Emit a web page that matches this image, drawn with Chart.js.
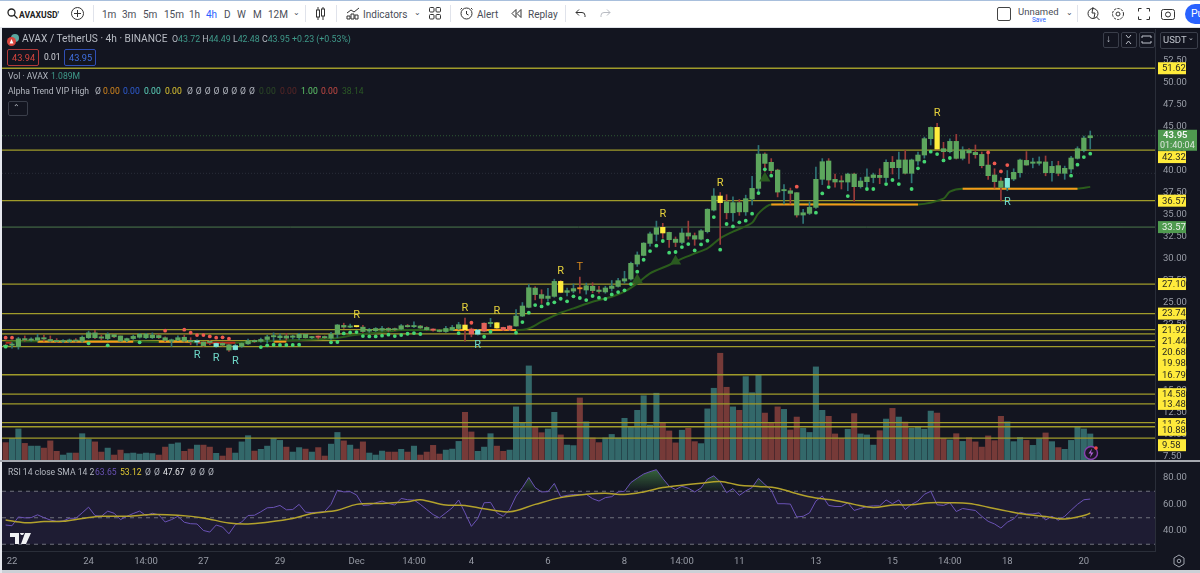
<!DOCTYPE html>
<html>
<head>
<meta charset="utf-8">
<title>AVAX / TetherUS</title>
<script src="https://cdn.jsdelivr.net/npm/chart.js@4"></script>
<style>
  html, body { margin: 0; padding: 0; width: 1200px; height: 573px; overflow: hidden; background: #ccd0d6; font-family: Roboto, sans-serif; }
  .abs, canvas { position: absolute; }
  .t { position: absolute; white-space: pre; line-height: 1; }
  #toolbar { position: absolute; left: 0; top: 0; width: 1200px; height: 26px; background: #fff; border-top: 1px solid #a8bfdc; color: #4a4e58; }
  #toolbar .t { font-size: 10px; top: 9px; }
  #frame { position: absolute; left: 2px; top: 28px; width: 1198px; height: 542px; background: #131520; }
  #sep { position: absolute; left: 0; top: 460px; width: 1200px; height: 2px; background: #a6a9b0; }
  .leg { color: #b4b8c0; font-size: 8.6px; }
  .val { font-size: 8.6px; }
  .box { position: absolute; border: 1px solid #3a3e4a; border-radius: 2px; }
  svg { position: absolute; }
</style>
</head>
<body>
<div id="frame"></div>
<div id="toolbar">
  <svg style="left:7px;top:7px" width="11" height="11" viewBox="0 0 11 11" fill="none" stroke="#222" stroke-width="1.3"><circle cx="4.5" cy="4.5" r="3.5"/><path d="M7 7l3.5 3.5"/></svg>
  <span class="t" style="left:19px;font-weight:700;color:#222;font-size:8.6px;top:10px">AVAXUSD'</span>
  <svg style="left:71px;top:6px" width="13" height="13" viewBox="0 0 13 13" fill="none" stroke="#333"><circle cx="6.5" cy="6.5" r="6"/><path d="M6.5 3v7M3 6.5h7"/></svg>
  <div class="abs" style="left:93px;top:4px;width:1px;height:17px;background:#e0e3eb"></div>
  <span class="t" style="left:102px">1m</span><span class="t" style="left:122px">3m</span><span class="t" style="left:143px">5m</span><span class="t" style="left:164px">15m</span><span class="t" style="left:189px">1h</span><span class="t" style="left:206px;color:#2962ff">4h</span><span class="t" style="left:224px">D</span><span class="t" style="left:237px">W</span><span class="t" style="left:253px">M</span><span class="t" style="left:268px">12M</span>
  <span class="t" style="left:293px;top:8px;font-size:8px">&#8964;</span>
  <div class="abs" style="left:305px;top:4px;width:1px;height:17px;background:#e0e3eb"></div>
  <svg style="left:315px;top:5px" width="11" height="15" viewBox="0 0 11 15" fill="none" stroke="#333"><path d="M3 1v13M8 1v13"/><rect x="1.5" y="4" width="3" height="7" fill="#fff"/><rect x="6.5" y="3" width="3" height="7" fill="#fff"/></svg>
  <div class="abs" style="left:336px;top:4px;width:1px;height:17px;background:#e0e3eb"></div>
  <svg style="left:346px;top:6px" width="14" height="13" viewBox="0 0 14 13" fill="none" stroke="#333"><path d="M1 6l4-3 3 2 5-4"/><path d="M1 12V9h3v3zM5 12V7h3v5zM9 12V8h3v4z"/></svg>
  <span class="t" style="left:363px">Indicators</span>
  <span class="t" style="left:414px;top:8px;font-size:8px">&#8964;</span>
  <svg style="left:429px;top:6px" width="12" height="13" viewBox="0 0 12 13" fill="none" stroke="#333"><rect x=".5" y=".5" width="4.5" height="4.5" rx="1"/><rect x="7" y=".5" width="4.5" height="4.5" rx="1"/><rect x=".5" y="7.5" width="4.5" height="4.5" rx="1"/><rect x="7" y="7.5" width="4.5" height="4.5" rx="1"/></svg>
  <div class="abs" style="left:450px;top:4px;width:1px;height:17px;background:#e0e3eb"></div>
  <svg style="left:460px;top:5px" width="14" height="15" viewBox="0 0 14 15" fill="none" stroke="#333"><circle cx="6.5" cy="7.5" r="5.5"/><path d="M6.5 5v3l2 1M2 2L0.5 3.5M11 2l1.5 1.5"/></svg>
  <span class="t" style="left:477px">Alert</span>
  <svg style="left:511px;top:8px" width="11" height="9" viewBox="0 0 11 9" fill="none" stroke="#333"><path d="M5 .5L1 4.5l4 4zM10 .5L6 4.5l4 4z"/></svg>
  <span class="t" style="left:528px">Replay</span>
  <div class="abs" style="left:565px;top:4px;width:1px;height:17px;background:#e0e3eb"></div>
  <svg style="left:575px;top:8px" width="11" height="9" viewBox="0 0 11 9" fill="none" stroke="#333"><path d="M4 .5L1 3.5l3 3M1 3.5h6a3 3 0 0 1 3 3V8"/></svg>
  <svg style="left:600px;top:8px" width="11" height="9" viewBox="0 0 11 9" fill="none" stroke="#b8bbc2"><path d="M7 .5l3 3-3 3M10 3.5H4a3 3 0 0 0-3 3V8"/></svg>
  <div class="abs" style="left:997px;top:6px;width:12px;height:12px;border:1px solid #444;border-radius:2px"></div>
  <span class="t" style="left:1018px;top:6px;font-size:9.5px">Unnamed</span>
  <span class="t" style="left:1032px;top:16px;font-size:6.5px;color:#2962ff">Save</span>
  <span class="t" style="left:1066px;top:8px;font-size:8px">&#8964;</span>
  <div class="abs" style="left:1077px;top:4px;width:1px;height:17px;background:#e0e3eb"></div>
  <svg style="left:1087px;top:5px" width="14" height="15" viewBox="0 0 14 15" fill="none" stroke="#333"><circle cx="6" cy="7.5" r="5"/><path d="M9.5 11l3 3M6 1l-1 6h3l-1 5"/></svg>
  <svg style="left:1111px;top:6px" width="14" height="14" viewBox="0 0 14 14" fill="none" stroke="#333"><circle cx="7" cy="7" r="2"/><circle cx="7" cy="7" r="5.5" stroke-dasharray="2.5 1"/></svg>
  <svg style="left:1138px;top:7px" width="12" height="12" viewBox="0 0 12 12" fill="none" stroke="#333"><path d="M0.5 3.5V.5h3M8.5.5h3v3M11.5 8.5v3h-3M3.5 11.5h-3v-3"/></svg>
  <svg style="left:1161px;top:6px" width="14" height="13" viewBox="0 0 14 13" fill="none" stroke="#333"><rect x=".5" y="2.5" width="13" height="10" rx="2"/><circle cx="7" cy="7.5" r="2.5"/></svg>
  <div class="abs" style="left:1185px;top:3px;width:30px;height:20px;border-radius:10px;background:#2962ff"></div>
  <span class="t" style="left:1191px;top:8px;font-size:10.5px;color:#fff">Pu</span>
</div>
<div class="abs" style="left:0;top:27px;width:1200px;height:1px;background:#dfe2e8"></div>
<div class="abs" style="left:0;top:27px;width:2px;height:546px;background:#e6e8ee"></div>

<canvas id="mainChart" width="1200" height="432" style="left:0;top:29px"></canvas>
<canvas id="rsiChart" width="1200" height="108" style="left:0;top:462px"></canvas>
<div id="sep"></div>

<svg style="left:6px;top:33px" width="14" height="14" viewBox="0 0 14 14"><circle cx="9" cy="5" r="4" fill="#5aa7a0"/><circle cx="5.5" cy="8.5" r="4.5" fill="#d8453e"/><path d="M5.5 6L3.5 10.5h4z" fill="#fff"/></svg>
<span class="t" style="left:22px;top:34px;font-size:10.2px;color:#b8bcc4">AVAX / TetherUS · 4h · BINANCE</span>
<span class="t" style="left:172px;top:35px;font-size:8.8px;color:#3f9a8a"><span style="color:#b4b8c0">O</span>43.72 <span style="color:#b4b8c0">H</span>44.49 <span style="color:#b4b8c0">L</span>42.48 <span style="color:#b4b8c0">C</span>43.95 +0.23 (+0.53%)</span>
<div class="box" style="left:7px;top:49px;width:30px;height:15px;border-color:#b23a3a"></div>
<span class="t" style="left:12px;top:53px;font-size:9.2px;color:#d8453e">43.94</span>
<span class="t" style="left:44px;top:53px;font-size:8.5px;color:#d4d6dc">0.01</span>
<div class="box" style="left:64px;top:49px;width:30px;height:15px;border-color:#2f4fb5"></div>
<span class="t" style="left:69px;top:53px;font-size:9.2px;color:#3f6fe0">43.95</span>
<span class="t leg" style="left:8px;top:72px">Vol · AVAX</span>
<span class="t val" style="left:51px;top:72px;color:#3f9a8a">1.089M</span>
<span class="t leg" style="left:8px;top:87px">Alpha Trend VIP High</span>
<span class="t leg" style="left:95px;top:87px">Ø</span>
<span class="t val" style="left:103px;top:87px;color:#d98a1e">0.00</span>
<span class="t val" style="left:123px;top:87px;color:#2f5fd8">0.00</span>
<span class="t val" style="left:144px;top:87px;color:#5fd8c0">0.00</span>
<span class="t val" style="left:165px;top:87px;color:#e0c832">0.00</span>
<span class="t leg" style="left:187px;top:87px;word-spacing:0.8px">Ø Ø Ø Ø Ø Ø Ø Ø</span>
<span class="t val" style="left:259px;top:87px;color:#2c4a26">0.00</span>
<span class="t val" style="left:280px;top:87px;color:#5a2626">0.00</span>
<span class="t val" style="left:301px;top:87px;color:#5fc86a">1.00</span>
<span class="t val" style="left:321px;top:87px;color:#c84a44">0.00</span>
<span class="t val" style="left:342px;top:87px;color:#2c5a26">38.14</span>
<div class="box" style="left:8px;top:101px;width:18px;height:13px"></div>
<span class="t" style="left:13px;top:104px;font-size:8px;color:#c0c4cc">&#8963;</span>

<div class="box" style="left:1103px;top:32px;width:14px;height:14px"></div>
<span class="t" style="left:1106px;top:34px;font-size:10px;color:#c0c4cc">&#8595;</span>
<div class="box" style="left:1121px;top:32px;width:14px;height:14px"></div>
<svg style="left:1123px;top:34px" width="11" height="11" viewBox="0 0 11 11" fill="none" stroke="#c0c4cc"><path d="M3 1l2.5 3L8 1M3 10l2.5-3L8 10"/></svg>
<div class="box" style="left:1139px;top:32px;width:14px;height:14px"></div>
<svg style="left:1141px;top:34px" width="11" height="11" viewBox="0 0 11 11" fill="none" stroke="#c0c4cc"><path d="M1 4V2h9v2M1 7v2h9V7"/></svg>
<div class="box" style="left:1160px;top:32px;width:36px;height:15px"></div>
<span class="t" style="left:1163px;top:35px;font-size:9.5px;color:#c0c4cc">USDT</span>
<span class="t" style="left:1188px;top:35px;font-size:7px;color:#c0c4cc">&#8964;</span>

<span class="t leg" style="left:8px;top:468px">RSI 14 close SMA 14 2</span>
<span class="t val" style="left:95px;top:468px;color:#6a52b5">63.65</span>
<span class="t val" style="left:120px;top:468px;color:#e0c832">53.12</span>
<span class="t leg" style="left:145px;top:468px;word-spacing:1px">Ø Ø</span>
<span class="t val" style="left:163px;top:468px;color:#e8e9ec">47.67</span>
<span class="t leg" style="left:190px;top:468px;word-spacing:1px">Ø Ø Ø</span>

<svg style="left:10px;top:533px" width="21" height="11" viewBox="0 0 21 11" fill="#f0f1f4"><path d="M0 0h9v11H5V4H0zM10 0a2 2 0 1 1 0 .1zM15 0h6l-5 11h-5z"/></svg>
<svg style="left:1083px;top:445px" width="16" height="16" viewBox="0 0 16 16" fill="none"><circle cx="8" cy="8" r="6.5" stroke="#8a3fb0" stroke-width="1.4" fill="#1d1626"/><path d="M9 3.5L5.5 8.5h2.5L7 12.5l3.5-5H8z" fill="#b060d8"/><circle cx="13" cy="3" r="1.8" fill="#ef4a44"/></svg>
<svg style="left:1172px;top:554px" width="14" height="14" viewBox="0 0 14 14" fill="none" stroke="#a0a4ad"><path d="M7 1l5 3v6l-5 3-5-3V4z"/><circle cx="7" cy="7" r="1.8"/></svg>

<script>
// bar number of the first entry in every per-bar list below
const firstBar = -1;

const opens = [20.15,20.15,19.98,20.9,20.72,20.74,21.0,20.8,20.65,20.55,20.55,20.74,20.6,21.0,21.55,21.1,20.9,21.35,21.2,20.65,20.9,21.05,21.0,21.0,21.25,21.0,20.6,20.74,21.05,20.7,20.5,20.5,20.5,20.0,20.35,20.2,19.65,20.0,20.3,20.7,20.6,20.8,21.1,21.0,21.2,21.05,21.0,21.4,21.0,21.1,21.05,20.95,21.4,22.4,22.2,22.3,22.2,21.75,21.8,21.85,22.05,22.0,21.98,22.36,22.25,22.33,22.17,21.98,21.87,21.7,21.87,22.05,22.44,21.98,21.4,21.75,22.6,22.7,22.17,21.87,22.33,23.46,24.45,26.64,25.9,25.47,25.7,27.4,26.15,26.3,26.62,26.42,26.85,26.42,26.2,26.6,26.83,27.44,27.67,29.37,30.35,31.72,32.75,33.54,32.97,32.2,31.83,32.9,32.6,32.2,33.05,35.5,37.1,36.45,35.2,36.35,35.3,36.76,37.97,41.87,40.93,40.05,37.7,37.7,37.48,34.94,35.13,35.81,39.0,41.08,39.0,38.8,38.69,39.6,38.16,38.73,39.2,39.45,39.2,40.93,40.32,41.2,39.68,41.08,41.76,43.62,44.9,42.48,42.14,43.31,41.38,42.33,42.06,41.83,40.62,39.49,38.8,38.08,39.03,39.75,41.15,40.82,40.82,40.97,39.75,40.55,39.68,40.17,41.38,42.25,43.72];
const highs = [20.25,20.45,21.05,21.2,21.0,21.4,21.3,21.2,20.9,20.8,20.85,20.9,21.2,21.75,21.85,21.3,21.55,21.4,21.2,20.95,21.3,21.5,21.5,21.55,21.4,21.1,20.85,21.2,21.3,21.0,20.75,20.55,20.7,20.4,20.5,20.3,20.25,20.4,20.85,20.75,20.95,21.3,21.55,21.45,21.5,21.3,21.5,21.45,21.15,21.2,21.2,21.6,22.5,22.65,22.55,22.3,22.4,22.05,22.15,22.3,22.15,22.1,22.5,22.5,22.8,22.4,22.25,22.0,21.95,22.3,22.4,22.75,23.24,22.1,21.95,22.7,23.2,22.75,22.2,22.4,24.2,25.0,27.05,26.8,26.45,26.6,27.65,27.5,26.65,27.1,27.9,27.2,27.25,26.85,26.85,27.5,27.75,28.55,29.6,30.75,31.8,33.0,34.25,34.0,33.0,32.45,33.4,34.25,32.9,33.3,35.65,37.95,37.5,37.25,37.0,36.7,37.2,39.35,42.85,42.0,41.35,40.15,38.4,38.0,37.5,35.6,36.45,40.4,41.35,41.35,39.6,39.4,39.7,39.7,39.2,40.2,39.7,40.2,41.2,41.6,42.1,42.3,41.3,42.1,43.8,44.95,45.35,43.2,43.6,44.1,42.7,42.5,42.9,42.1,41.9,40.2,39.2,40.0,40.2,41.3,42.15,41.4,41.55,41.65,41.05,41.05,40.5,41.6,42.7,43.9,44.49];
const lows = [19.9,19.8,19.7,20.6,20.6,20.6,20.6,20.5,20.45,20.45,20.45,20.5,20.5,20.9,20.9,20.75,20.75,21.0,20.55,20.55,20.8,20.95,20.9,20.9,20.9,20.55,20.0,20.65,20.5,20.2,20.15,20.0,20.2,19.9,20.05,19.45,19.6,19.9,20.25,20.45,20.5,20.4,20.6,20.75,20.75,20.85,20.8,20.95,20.9,20.85,20.9,20.8,21.0,22.05,22.15,22.2,21.6,21.6,21.7,21.75,21.7,21.8,21.9,22.2,22.15,22.05,21.85,21.75,21.65,21.6,21.8,21.95,20.62,21.1,21.3,21.7,22.25,22.05,21.8,21.8,22.3,23.4,24.4,25.3,24.9,25.15,25.6,26.1,25.75,26.1,26.05,25.95,26.1,26.05,26.05,26.3,26.75,27.2,27.55,29.1,30.3,31.4,32.0,32.3,31.27,31.35,31.65,32.2,31.5,32.1,32.9,35.4,31.6,34.5,34.25,34.9,34.9,36.1,37.4,39.9,39.7,37.0,36.2,36.2,34.7,34.0,35.0,35.7,38.4,38.4,38.1,37.9,37.7,36.5,38.0,38.1,38.6,38.5,38.7,39.6,39.05,39.6,38.6,40.6,41.4,42.9,42.3,41.4,42.0,41.3,41.2,40.8,41.4,40.3,39.0,38.0,36.55,37.7,38.85,39.25,40.6,40.3,40.6,39.4,38.8,39.4,39.0,39.75,41.3,42.1,42.48];
const closes = [19.98,20.2,20.88,20.75,20.8,21.0,20.85,20.6,20.55,20.65,20.74,20.6,21.05,21.55,21.0,20.95,21.4,21.1,20.6,20.9,21.15,21.4,21.4,21.3,21.0,20.7,20.76,21.0,20.6,20.55,20.55,20.1,20.45,20.35,20.15,19.6,20.1,20.35,20.65,20.55,20.8,21.1,21.15,21.2,20.95,21.2,21.4,21.0,21.08,21.05,21.0,21.4,22.45,22.2,22.3,22.25,21.7,21.95,22.05,22.05,21.85,21.9,22.36,22.25,22.33,22.1,21.9,21.85,21.7,22.05,22.17,22.48,21.9,21.42,21.87,22.65,22.65,22.1,21.87,22.33,23.46,24.6,26.68,25.9,25.47,25.73,27.4,26.15,26.35,26.58,26.55,26.9,26.35,26.25,26.65,26.87,27.48,27.7,29.45,30.4,31.75,32.8,33.5,32.9,32.14,31.83,32.9,32.55,32.2,33.15,35.6,37.1,36.35,35.2,36.35,35.3,36.8,37.97,41.87,40.81,39.98,37.55,37.8,37.4,34.94,35.2,35.81,39.0,41.0,38.92,38.69,38.7,39.6,38.16,38.8,39.26,39.5,39.2,40.93,40.32,41.2,39.68,41.2,41.76,43.62,44.9,42.44,42.14,43.31,41.38,42.33,42.0,41.8,40.55,39.41,38.73,38.08,39.11,39.79,41.19,40.62,40.97,41.0,39.75,40.47,39.68,40.25,41.42,42.48,43.69,43.95];

// volume in millions
const volumes = [0.74,0.91,1.29,0.71,0.60,0.60,0.52,0.81,0.39,0.24,0.32,0.32,1.10,0.87,0.77,0.36,0.52,0.24,0.44,0.30,0.32,0.28,0.32,0.30,0.24,0.56,0.68,0.73,0.39,0.48,0.64,0.64,0.56,0.31,0.20,0.52,0.32,0.77,1.02,0.40,0.47,0.60,0.91,0.83,0.56,0.36,0.54,0.48,0.36,0.54,0.20,0.68,1.15,0.81,0.64,0.48,0.77,0.32,0.24,0.40,0.36,0.36,0.47,0.36,0.60,0.24,0.36,0.63,0.28,0.44,0.48,0.79,1.96,1.17,0.39,0.56,1.10,0.60,0.39,0.44,2.18,1.52,3.83,1.38,1.14,1.29,1.96,1.05,0.64,0.62,2.54,1.58,0.93,0.74,0.93,1.07,0.93,1.72,1.38,2.04,2.63,1.45,2.73,1.53,1.21,0.73,1.24,1.32,0.78,0.70,2.10,2.93,4.34,2.97,2.18,2.04,3.40,2.75,3.46,1.93,1.54,2.18,2.08,1.25,1.77,1.32,1.15,3.79,2.04,1.80,1.09,0.91,1.28,1.91,1.09,1.05,0.64,1.22,1.69,2.12,1.77,1.57,1.32,1.37,1.28,2.01,1.93,0.91,0.85,1.10,0.79,0.94,0.77,0.56,1.01,0.82,1.80,1.58,0.78,0.95,0.83,0.63,0.90,1.13,0.78,0.54,0.47,0.83,1.38,1.29,1.089];

// RSI per bar
const rsiValues = [44.5,44.0,50.6,49.9,50.1,52.2,50.1,48.3,47.3,47.6,49.6,49.6,53.7,58.0,51.7,51.1,55.0,53.4,48.6,51.1,53.2,55.0,51.7,53.4,52.2,46.8,48.6,51.1,46.6,45.5,45.3,40.4,39.2,44.5,43.0,37.9,44.8,46.8,51.7,51.9,54.5,57.5,57.8,59.3,56.0,56.2,60.1,54.2,53.9,54.2,54.7,60.1,70.8,69.5,69.7,67.2,59.3,59.6,61.3,62.6,60.8,59.6,64.6,63.6,63.4,60.1,56.2,52.4,49.9,53.7,57.5,63.4,53.7,43.5,49.4,61.3,61.6,53.7,51.1,56.2,66.4,72.8,80.4,72.8,69.5,69.7,75.9,65.9,66.9,67.5,67.5,67.7,64.4,62.6,65.2,65.9,69.5,70.0,76.6,79.9,83.0,84.8,86.3,79.7,73.8,71.3,73.8,72.3,69.5,72.5,79.2,81.7,77.1,69.0,72.0,66.9,70.3,72.8,79.7,75.1,70.8,60.6,60.6,60.3,50.6,51.1,53.7,62.6,66.4,59.3,58.5,58.5,61.3,55.5,57.0,58.5,59.0,59.0,63.4,60.6,63.4,56.2,60.1,62.6,67.7,70.0,59.8,59.3,61.3,54.7,57.0,56.2,55.5,51.1,47.3,45.3,42.2,46.6,49.1,54.2,52.9,52.9,53.7,48.3,51.1,48.1,51.1,55.7,60.1,63.6,64.1];

// RSI moving average, read at these bars
const rsiMaBars = [-1,2,5,8,11,14,18,22,26,30,34,37,40,44,47,51,54,58,62,64,68,71,74,78,82,86,90,93,96,99,102,105,108,111,114,117,120,123,126,129,132,135,138,141,144,147,150,153,156,159,162,165,168,169];
const rsiMaValues = [48.3,46.3,47.1,47.3,49.4,51.1,51.1,52.4,51.9,49.9,46.0,45.3,46.6,49.4,53.2,55.7,60.1,60.8,62.1,63.6,59.6,59.3,56.8,54.5,60.1,65.2,67.7,68.5,67.5,69.5,72.8,74.6,76.1,77.4,74.6,73.6,72.3,68.2,64.9,63.1,60.1,57.8,59.6,59.8,61.3,61.3,60.8,58.0,55.0,52.4,50.9,49.1,51.7,53.4];
const rsiLevels = [70, 50, 30];

// horizontal support and resistance levels
const yellowLevels = [51.62, 42.32, 36.57, 27.10, 23.74, 21.92, 21.44, 20.68, 19.98, 16.79, 14.58, 13.48, 11.36, 10.88, 9.58];
const greenLevels = [33.57];
const lastPrice = 43.95;
const faintLevel = 39.68;

// alpha trend line
const trendBars = [-1,20,35,38,50,54,60,61,79,81,83,86,88,91,94,96,98,100,103,105,107,109,111,113,116,117,119,142,146,147,149,167,169];
const trendValues = [20.58,20.58,20.43,20.58,20.9,21.34,21.8,21.87,21.87,22.06,22.82,23.84,24.33,25.09,25.66,26.23,27.17,28.31,29.26,29.98,30.58,31.15,32.29,33.05,34.07,35.13,36.15,36.15,36.8,37.6,37.93,37.93,38.14];
const orangeStart = [4, 23, 41, 69, 119, 149];
const orangeEnd = [19, 28, 43, 79, 142, 167];
const orangeValue = [20.55, 20.55, 20.55, 21.87, 36.15, 37.93];
const redStart = [-1, 29];
const redEnd = [0, 35];
const redValue = [20.43, 20.43];

// dots under and over the candles
const greenDotBars = [-1,12,15,20,39,40,41,42,43,44,45,50,51,52,53,54,55,56,57,58,59,60,61,62,63,64,70,74,75,79,80,81,82,83,84,85,86,87,88,89,90,91,92,93,94,95,96,97,98,99,100,101,102,103,104,105,106,107,108,109,110,111,112,113,114,115,116,117,118,119,126,127,128,131,134,135,137,138,139,141,142,143,144,145,146,147,166,167,168,169];
const greenDotValues = [19.98,20.36,20.13,20.47,19.94,20.13,20.2,20.17,20.17,20.17,20.2,20.47,20.51,21.49,21.6,21.64,21.19,21.15,21.15,21.23,21.34,21.19,21.3,21.45,21.53,21.42,21.53,21.11,21.68,21.57,22.78,23.84,24.71,24.56,24.86,25.02,25.43,25.13,25.7,25.51,25.28,25.74,25.55,25.4,25.92,26.19,26.38,27.1,28.5,29.86,30.85,31.46,31.99,30.66,30.74,31.3,31.64,30.92,31.6,32.02,34.71,31.0,33.92,33.65,34.11,34.3,35.09,37.44,40.13,39.41,35.21,37.4,38.12,37.1,37.9,37.9,38.46,38.92,38.46,37.9,40.25,41.0,42.14,41.87,41.15,41.42,39.41,40.66,41.53,41.91];
const redDotBars = [-1,0,24,27,28,29,30,31,32,33,34,72,123,153,154,155,156];
const redDotValues = [21.0,21.0,21.8,21.91,21.57,21.3,21.3,21.15,21.0,21.04,20.89,22.7,38.16,42.06,40.81,39.9,40.62];

// trend triangles
const triangleBars = [98, 104, 118];
const triangleValues = [27.55, 29.7, 39.11];

// recoloured candle bodies
const yellowBodies = [54, 71, 76, 86, 102, 111, 145];
const cyanBodies = [29, 32, 35, 73, 156];
const redBodies = [48, 66, 72, 74, 77, 78];
const orangeBodies = [89];

// letter signals
const letterBars = [54, 71, 76, 86, 102, 111, 145, 89, 29, 32, 35, 73, 156];
const letterValues = [23.58, 24.38, 24.03, 28.58, 35.06, 38.58, 46.53, 29.05, 19.03, 18.7, 18.35, 20.17, 36.42];
const letterTexts = ['R', 'R', 'R', 'R', 'R', 'R', 'R', 'T', 'R', 'R', 'R', 'R', 'R'];
const letterColors = ['#e6d23c', '#e6d23c', '#e6d23c', '#e6d23c', '#e6d23c', '#e6d23c', '#e6d23c', '#d98a1e', '#6fd8c8', '#6fd8c8', '#6fd8c8', '#6fd8c8', '#6fd8c8'];

// axes
const priceTicks = [52.5,50,47.5,45,42.5,40,37.5,35,32.5,30,27.5,25,22.5,20,17.5,15,12.5,10,7.5];
const rsiTicks = [80, 60, 40];
const timeTickBars = [0, 12, 21, 30, 42, 54, 63, 72, 84, 96, 105, 114, 126, 138, 147, 156, 168];
const timeTickLabels = ['22', '24', '14:00', '27', '29', 'Dec', '14:00', '4', '6', '8', '14:00', '11', '13', '15', '14:00', '18', '20'];

// view window, in bars
const xMin = -1.57, xMax = 179.15;

const barNumbers = closes.map((_, i) => i + firstBar);
const tagLabelShift = { 42.32: 7, 21.44: 7, 20.68: 11.5, 19.98: 16.5, 10.88: 3, 9.58: 7, 11.36: 1.5, 21.92: 0.5 };

function bodyColor(bar) {
  if (yellowBodies.includes(bar)) return '#ffec3d';
  if (cyanBodies.includes(bar)) return '#7fe8da';
  if (redBodies.includes(bar)) return '#e4625a';
  if (orangeBodies.includes(bar)) return '#e8921e';
  return '#5da65d';
}

function hline(level, color, width, dash) {
  return {
    type: 'line', xAxisID: 'x', yAxisID: 'y', data: [{ x: xMin, y: level }, { x: xMax, y: level }],
    borderColor: color, borderWidth: width, borderDash: dash || [], pointRadius: 0, order: 6
  };
}

function segments(starts, ends, values, color) {
  return starts.map((s, i) => ({
    type: 'line', xAxisID: 'x', yAxisID: 'y', data: [{ x: s, y: values[i] }, { x: ends[i], y: values[i] }],
    borderColor: color, borderWidth: 2, pointRadius: 0, order: 3
  }));
}

function dots(bars, values, color, style, radius, order) {
  return {
    type: 'scatter', xAxisID: 'x', yAxisID: 'y', data: bars.map((b, i) => ({ x: b, y: values[i] })),
    backgroundColor: color, pointStyle: style, pointRadius: radius, borderWidth: 0, order: order
  };
}

// price tags and R / T letters drawn over the main pane
const overlayPlugin = {
  id: 'overlay',
  afterDraw(chart) {
    const ctx = chart.ctx, y = chart.scales.y, x = chart.scales.x;
    ctx.save();
    ctx.textBaseline = 'middle';
    ctx.textAlign = 'center';
    ctx.font = '11px Roboto';
    letterBars.forEach((b, i) => {
      ctx.fillStyle = letterColors[i];
      ctx.fillText(letterTexts[i], x.getPixelForValue(b), y.getPixelForValue(letterValues[i]));
    });
    ctx.textAlign = 'left';
    ctx.font = '9.5px Roboto';
    yellowLevels.forEach(level => {
      const py = y.getPixelForValue(level) + (tagLabelShift[level] || 0);
      ctx.fillStyle = '#ffeb3b';
      ctx.fillRect(1158, py - 6, 28, 12);
      ctx.fillStyle = '#2a2a20';
      ctx.fillText(level.toFixed(2), 1162, py + 0.5);
    });
    greenLevels.forEach(level => {
      const py = y.getPixelForValue(level);
      ctx.fillStyle = '#4f9a4f';
      ctx.fillRect(1158, py - 6, 28, 12);
      ctx.fillStyle = '#eef2ee';
      ctx.fillText(level.toFixed(2), 1162, py + 0.5);
    });
    const py = y.getPixelForValue(lastPrice);
    ctx.fillStyle = '#4f9a4f';
    ctx.fillRect(1158, py - 6, 39, 21);
    ctx.fillStyle = '#f2f5f2';
    ctx.font = 'bold 9.5px Roboto';
    ctx.fillText(lastPrice.toFixed(2), 1163, py);
    ctx.font = '9px Roboto';
    ctx.fillStyle = '#dfe8df';
    ctx.fillText('01:40:04', 1160, py + 10);
    ctx.restore();
  }
};

const noPadding = s => { s.paddingTop = 0; s.paddingBottom = 0; s.paddingLeft = 0; s.paddingRight = 0; };

new Chart(document.getElementById('mainChart'), {
  data: {
    datasets: [
      { type: 'bar', xAxisID: 'x', yAxisID: 'yVol', data: barNumbers.map((b, i) => ({ x: b, y: volumes[i] })),
        backgroundColor: barNumbers.map((b, i) => closes[i] < opens[i] ? '#763a38' : '#33686a'),
        barThickness: 5.4, grouped: false, order: 9 },
      ...yellowLevels.map(l => hline(l, '#a09b2a', 1.3)),
      ...greenLevels.map(l => hline(l, '#4d7a4d', 1)),
      hline(lastPrice, '#2f5a34', 1, [1, 2]),
      hline(faintLevel, '#2a2e39', 1, [1, 2]),
      { type: 'line', xAxisID: 'x', yAxisID: 'y', data: trendBars.map((b, i) => ({ x: b, y: trendValues[i] })),
        borderColor: '#2b5c1c', borderWidth: 2, pointRadius: 0, tension: 0.3, order: 4 },
      ...segments(orangeStart, orangeEnd, orangeValue, '#f59a1a'),
      ...segments(redStart, redEnd, redValue, '#b8281e'),
      { type: 'bar', xAxisID: 'x', yAxisID: 'y', data: barNumbers.map((b, i) => ({ x: b, y: [lows[i], highs[i]] })),
        backgroundColor: barNumbers.map((b, i) => closes[i] < opens[i] ? '#9a3c3a' : '#2f7476'),
        barThickness: 1, grouped: false, order: 2.5 },
      { type: 'bar', xAxisID: 'x', yAxisID: 'y', data: barNumbers.map((b, i) => ({ x: b, y: [opens[i], closes[i]] })),
        backgroundColor: barNumbers.map(bodyColor),
        barThickness: 4.6, minBarLength: 1.2, grouped: false, order: 2 },
      dots(triangleBars, triangleValues, '#2a5a20', 'triangle', 6.5, 1.5),
      dots(greenDotBars, greenDotValues, '#45d672', 'circle', 1.9, 1),
      dots(redDotBars, redDotValues, '#ef5a50', 'circle', 1.9, 1)
    ]
  },
  options: {
    responsive: false, animation: false, devicePixelRatio: 1,
    layout: { autoPadding: false, padding: { left: 2, right: 0, top: 0, bottom: 0 } },
    plugins: { legend: { display: false }, tooltip: { enabled: false } },
    scales: {
      x: { type: 'linear', display: false, offset: false, min: xMin, max: xMax },
      yVol: { display: false, min: 0, max: 17.4 },
      y: {
        position: 'right', min: 6.99, max: 56.08,
        grid: { display: false, drawTicks: false },
        border: { color: '#2a2e39' },
        ticks: { color: '#989ca6', font: { family: 'Roboto', size: 9.5 }, padding: 8, autoSkip: false, callback: v => v.toFixed(2) },
        afterBuildTicks: s => { s.ticks = priceTicks.map(v => ({ value: v })); },
        afterFit: s => { s.width = 45; noPadding(s); }
      }
    }
  },
  plugins: [overlayPlugin]
});

// overbought fill fades out towards the 70 line
const rsiCanvas = document.getElementById('rsiChart');
const overboughtFill = rsiCanvas.getContext('2d').createLinearGradient(0, 8, 0, 29);
overboughtFill.addColorStop(0, 'rgba(76,150,76,0.6)');
overboughtFill.addColorStop(1, 'rgba(76,150,76,0.03)');

new Chart(rsiCanvas, {
  data: {
    datasets: [
      { type: 'line', data: barNumbers.map((b, i) => ({ x: b, y: rsiValues[i] })),
        borderColor: '#6a52b5', borderWidth: 1, pointRadius: 0, order: 2,
        fill: { target: { value: 70 }, above: overboughtFill, below: 'rgba(0,0,0,0)' } },
      { type: 'line', data: rsiMaBars.map((b, i) => ({ x: b, y: rsiMaValues[i] })),
        borderColor: '#b3a22c', borderWidth: 1.5, pointRadius: 0, tension: 0.35, order: 1 },
      ...rsiLevels.map(l => ({
        type: 'line', data: [{ x: xMin, y: l }, { x: xMax, y: l }],
        borderColor: '#6f717c', borderWidth: 1, borderDash: [4, 4], pointRadius: 0, order: 5
      })),
      { type: 'line', data: [{ x: xMin, y: rsiLevels[0] }, { x: xMax, y: rsiLevels[0] }],
        borderWidth: 0, pointRadius: 0, backgroundColor: '#1e1c33', fill: { target: { value: rsiLevels[2] } }, order: 8 }
    ]
  },
  options: {
    responsive: false, animation: false, devicePixelRatio: 1,
    layout: { autoPadding: false, padding: { left: 2, right: 0, top: 0, bottom: 0 } },
    plugins: { legend: { display: false }, tooltip: { enabled: false } },
    scales: {
      x: {
        type: 'linear', min: xMin, max: xMax,
        grid: { display: false, drawTicks: false },
        border: { color: '#2a2e39' },
        ticks: { color: '#989ca6', font: { family: 'Roboto', size: 9.5 }, padding: 4, autoSkip: false, maxRotation: 0, callback: (v, i) => timeTickLabels[i] },
        afterBuildTicks: s => { s.ticks = timeTickBars.map(v => ({ value: v })); },
        afterFit: s => { s.height = 18.3; noPadding(s); }
      },
      y: {
        position: 'right', min: 24.38, max: 92.08,
        grid: { display: false, drawTicks: false },
        border: { color: '#2a2e39' },
        ticks: { color: '#989ca6', font: { family: 'Roboto', size: 9.5 }, padding: 8, autoSkip: false, callback: v => v.toFixed(2) },
        afterBuildTicks: s => { s.ticks = rsiTicks.map(v => ({ value: v })); },
        afterFit: s => { s.width = 45; noPadding(s); }
      }
    }
  }
});
</script>
</body>
</html>
